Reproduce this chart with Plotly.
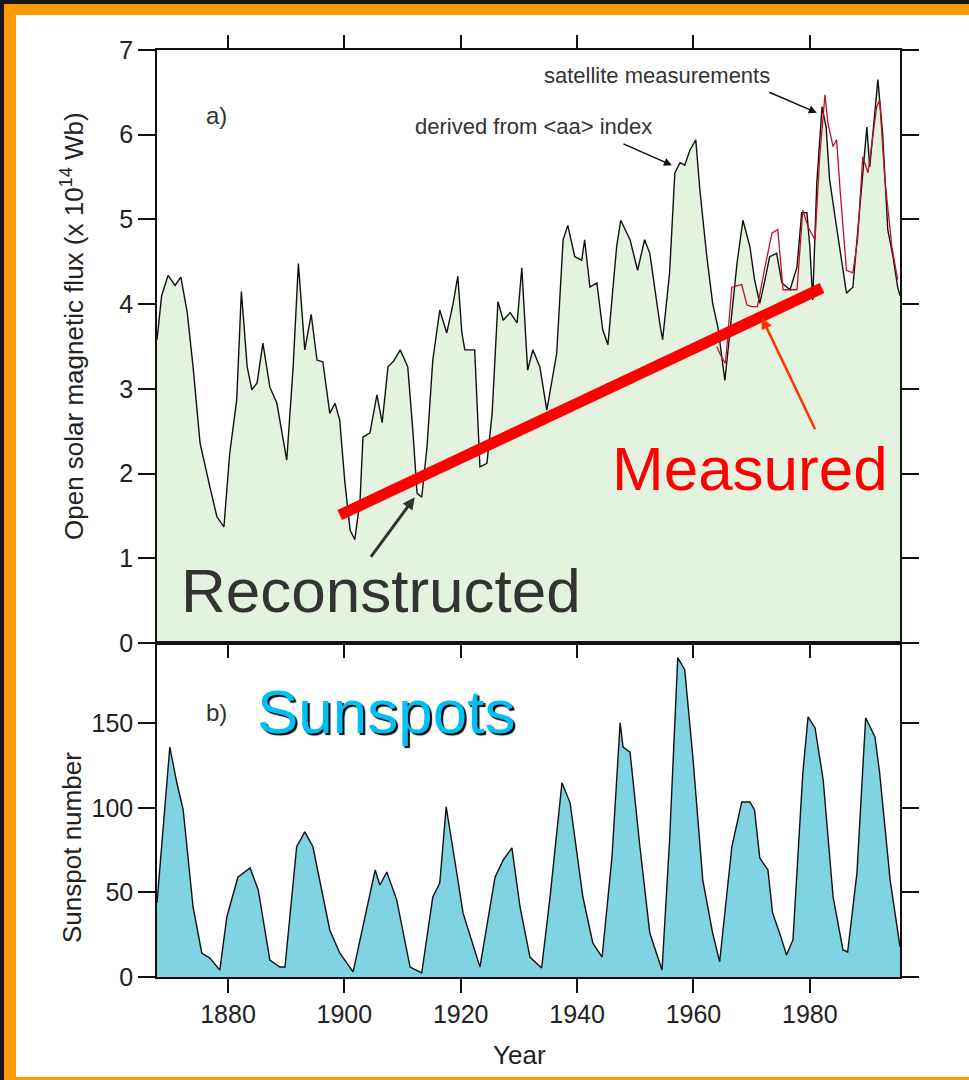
import plotly.graph_objects as go

# ---------------- data ----------------
flux_years = [1867.8, 1868.6, 1869.7, 1870.9, 1871.9, 1873.0, 1874.0, 1875.2, 1876.9, 1878.1,
              1879.3, 1880.3, 1881.5, 1882.3, 1883.3, 1884.1, 1885.0, 1886.0, 1887.2, 1888.4,
              1890.1, 1891.2, 1892.1, 1893.2, 1894.3, 1895.3, 1896.3, 1897.5, 1898.4, 1899.2,
              1900.1, 1901.0, 1901.8, 1902.7, 1903.2, 1904.4, 1905.6, 1906.5, 1907.5, 1908.5,
              1909.6, 1910.9, 1911.8, 1912.5, 1913.3, 1914.2, 1915.2, 1916.4, 1917.6, 1918.7,
              1919.5, 1920.2, 1920.7, 1922.4, 1923.3, 1924.5, 1925.4, 1926.4, 1927.3, 1928.5,
              1929.7, 1930.5, 1931.5, 1932.4, 1933.6, 1934.8, 1936.5, 1937.6, 1938.4, 1939.6,
              1940.8, 1941.3, 1942.2, 1943.4, 1944.4, 1945.3, 1946.8, 1947.5, 1949.1, 1950.4,
              1951.6, 1952.5, 1954.2, 1954.7, 1955.9, 1956.8, 1957.7, 1958.5, 1959.4, 1960.4,
              1961.1, 1962.3, 1963.3, 1964.2, 1965.4, 1966.3, 1967.5, 1968.5, 1969.7, 1970.5,
              1971.4, 1972.3, 1973.1, 1974.3, 1975.2, 1976.6, 1977.8, 1978.6, 1979.5, 1980.0,
              1980.5, 1981.2, 1982.1, 1982.8, 1983.4, 1984.6, 1985.7, 1986.3, 1987.4, 1988.6,
              1989.8, 1990.3, 1991.7, 1992.5, 1993.4, 1994.3, 1995.1, 1995.5]
flux_values = [3.58, 4.10, 4.34, 4.22, 4.32, 3.90, 3.26, 2.36, 1.84, 1.49,
               1.37, 2.24, 2.87, 4.15, 3.26, 2.99, 3.07, 3.54, 3.02, 2.83,
               2.16, 3.26, 4.48, 3.46, 3.88, 3.34, 3.32, 2.71, 2.83, 2.63,
               1.89, 1.33, 1.22, 1.69, 2.43, 2.48, 2.93, 2.60, 3.26, 3.33,
               3.46, 3.26, 2.48, 1.77, 1.72, 2.31, 3.34, 3.93, 3.66, 4.01,
               4.33, 3.66, 3.46, 3.46, 2.08, 2.12, 2.71, 4.03, 3.81, 3.90,
               3.78, 4.43, 3.22, 3.46, 3.26, 2.75, 3.42, 4.76, 4.93, 4.56,
               4.52, 4.76, 4.20, 4.25, 3.70, 3.52, 4.68, 4.99, 4.76, 4.40,
               4.76, 4.60, 3.78, 3.58, 4.37, 5.55, 5.67, 5.64, 5.82, 5.94,
               5.35, 4.56, 4.01, 3.73, 3.10, 3.70, 4.49, 4.99, 4.68, 4.29,
               4.01, 4.29, 4.56, 4.60, 4.25, 4.17, 4.44, 5.08, 5.08, 4.68,
               4.05, 5.43, 6.33, 6.09, 5.47, 4.91, 4.37, 4.13, 4.20, 5.15,
               6.09, 5.62, 6.65, 6.02, 4.88, 4.56, 4.20, 4.10]

meas_years = [1964.0, 1964.8, 1965.5, 1966.6, 1968.3, 1969.2, 1970.0, 1971.0, 1972.3, 1973.5,
              1974.5, 1975.4, 1977.8, 1978.8, 1979.7, 1980.9, 1981.7, 1982.6, 1983.1, 1984.0,
              1984.6, 1985.2, 1986.3, 1987.4, 1988.2, 1989.1, 1990.0, 1991.5, 1992.0, 1992.9,
              1994.1, 1995.1]
meas_values = [3.50, 3.38, 3.30, 4.20, 4.23, 3.99, 3.97, 3.97, 4.44, 4.84,
               4.88, 4.17, 4.17, 5.11, 4.91, 4.76, 5.74, 6.47, 6.14, 5.86,
               5.94, 5.35, 4.40, 4.37, 4.76, 5.74, 5.55, 6.33, 6.41, 5.47,
               4.68, 4.29]

ssn_years = [1867.8, 1869.2, 1870.0, 1871.2, 1872.3, 1874.0, 1875.5, 1876.9, 1878.6, 1879.8,
             1881.7, 1883.8, 1885.2, 1887.2, 1888.9, 1889.8, 1891.8, 1893.2, 1894.6, 1897.5,
             1899.2, 1901.5, 1903.9, 1905.3, 1906.1, 1907.3, 1909.0, 1911.3, 1913.3, 1915.2,
             1916.4, 1917.5, 1918.7, 1920.4, 1923.3, 1925.9, 1927.3, 1928.8, 1930.2, 1931.9,
             1933.9, 1935.3, 1937.4, 1938.8, 1941.0, 1942.7, 1944.3, 1946.0, 1947.4, 1947.9,
             1949.1, 1950.8, 1952.5, 1954.6, 1955.9, 1957.3, 1958.5, 1959.9, 1961.6, 1963.3,
             1964.5, 1966.6, 1968.3, 1969.7, 1970.5, 1971.4, 1972.8, 1973.6, 1974.8, 1976.0,
             1977.1, 1978.8, 1979.7, 1980.9, 1982.3, 1984.0, 1985.7, 1986.5, 1988.1, 1989.6,
             1991.2, 1992.0, 1993.8, 1995.5]
ssn_values = [43.8, 100.6, 136.0, 115.0, 98.8, 41.4, 14.2, 11.2, 4.1, 35.5,
              59.0, 64.5, 51.5, 10.0, 5.9, 5.9, 77.0, 85.8, 77.0, 27.8,
              14.2, 3.0, 41.4, 63.3, 54.4, 62.1, 45.6, 5.9, 2.4, 47.3,
              55.6, 100.6, 75.1, 37.9, 5.9, 59.0, 69.2, 76.3, 41.4, 11.8,
              5.3, 45.6, 114.8, 103.0, 47.3, 20.1, 11.8, 71.0, 150.3, 136.0,
              133.0, 77.0, 26.0, 4.1, 81.0, 188.8, 181.7, 130.0, 57.4, 26.0,
              8.9, 77.0, 103.5, 103.5, 98.8, 70.4, 63.3, 37.9, 26.0, 13.0,
              21.9, 120.7, 153.8, 147.3, 116.5, 47.3, 16.0, 14.8, 61.5, 153.3,
              142.0, 120.7, 57.4, 17.8]

trend_years = [1899.2, 1982.1]
trend_flux = [1.51, 4.19]

year_ticks = [1880, 1900, 1920, 1940, 1960, 1980]
flux_ticks = [0, 1, 2, 3, 4, 5, 6, 7]
ssn_ticks = [0, 50, 100, 150]

# ---------------- layout geometry ----------------
W, H = 969, 1080
L, R, T, B = 157, 69, 50, 103
PW, PH = W - L - R, H - T - B
SPLIT = 643  # pixel row of the boundary between the panels


def px(X, Y):
    return (X - L) / PW, (H - B - Y) / PH


FONT = "Liberation Sans, Arial, Helvetica, sans-serif"
split_frac = (H - B - SPLIT) / PH

fig = go.Figure()

fig.add_trace(go.Scatter(x=flux_years, y=flux_values, mode="lines", fill="tozeroy",
                         fillcolor="#e4f3df", line=dict(color="#111111", width=1.4),
                         xaxis="x", yaxis="y", showlegend=False))
fig.add_trace(go.Scatter(x=meas_years, y=meas_values, mode="lines",
                         line=dict(color="#c0102e", width=1.3),
                         xaxis="x", yaxis="y", showlegend=False))
fig.add_trace(go.Scatter(x=trend_years, y=trend_flux, mode="lines",
                         line=dict(color="#ff0000", width=11),
                         xaxis="x", yaxis="y", showlegend=False))
fig.add_trace(go.Scatter(x=ssn_years, y=ssn_values, mode="lines", fill="tozeroy",
                         fillcolor="#7fd3e3", line=dict(color="#111111", width=1.4),
                         xaxis="x2", yaxis="y2", showlegend=False))

axis_common = dict(showgrid=False, zeroline=False, showline=True, linecolor="#111111",
                   linewidth=1.5, ticks="outside", tickcolor="#111111", tickwidth=1.5,
                   tickfont=dict(family=FONT, size=25, color="#222222"))

fig.update_layout(
    width=W, height=H,
    margin=dict(l=L, r=R, t=T, b=B, pad=0),
    paper_bgcolor="#17171f",
    plot_bgcolor="#ffffff",
    font=dict(family=FONT, color="#222222"),
    xaxis=dict(domain=[0, 1], anchor="y", range=[1867.8, 1995.5], tickvals=year_ticks,
               showticklabels=False, mirror="ticks", ticklen=13, **axis_common),
    yaxis=dict(domain=[split_frac, 1], anchor="x", range=[0, 7], tickvals=flux_ticks,
               mirror="ticks", ticklen=17, **axis_common),
    xaxis2=dict(domain=[0, 1], anchor="y2", range=[1867.8, 1995.5], tickvals=year_ticks,
                mirror=True, ticklen=14, **axis_common),
    yaxis2=dict(domain=[0, split_frac], anchor="x2", range=[0, 197.5], tickvals=ssn_ticks,
                mirror="ticks", ticklen=17, **axis_common),
)

# frame: orange band and white card
ox0, oy0 = px(4, 4)
ox1, oy1 = px(W + 10, H + 10)
wx0, wy0 = px(16, 15)
wx1, wy1 = px(W + 10, H - 3)
fig.add_shape(type="rect", xref="paper", yref="paper", x0=ox0, y0=oy1, x1=ox1, y1=oy0,
              fillcolor="#ff9900", line=dict(width=0), layer="below")
fig.add_shape(type="rect", xref="paper", yref="paper", x0=wx0, y0=wy1, x1=wx1, y1=wy0,
              fillcolor="#ffffff", line=dict(width=0), layer="below")


def text_ann(X, Y, text, size, color, angle=0, **kw):
    x, y = px(X, Y)
    fig.add_annotation(xref="paper", yref="paper", x=x, y=y, text=text, showarrow=False,
                       xanchor="center", yanchor="middle", textangle=angle,
                       font=dict(family=FONT, size=size, color=color, **kw))


# axis titles (placed where the reference shows them)
text_ann(72, 326, "Open solar magnetic flux (x 10<sup>14</sup> Wb)", 26, "#222222", angle=-90)
text_ann(72, 848, "Sunspot number", 26, "#222222", angle=-90)
text_ann(519, 1055, "Year", 26, "#222222")

text_ann(216, 115, "a)", 24, "#333333")
text_ann(216, 712, "b)", 24, "#333333")
text_ann(533, 127, "derived from &lt;aa&gt; index", 22, "#333333")
text_ann(657, 75, "satellite measurements", 22, "#333333")
text_ann(381, 590, "Reconstructed", 62, "#333333")
text_ann(750, 468, "Measured", 62, "#ff0000")
text_ann(386, 711, "Sunspots", 62, "#00bff5", shadow="2px 2px 1px #000000")

# arrows (tip in data coords, tail offset in pixels)
arrows = [
    (1956.3, 5.64, -50, -22, "#111111", 1.6, 1.0),
    (1981.2, 6.26, -49, -21, "#111111", 1.6, 1.0),
    (1912.1, 1.72, -45, 61, "#333333", 3.0, 0.8),
    (1971.75, 3.84, 54, 113, "#ff3300", 2.5, 0.9),
]
for xa, ya, axp, ayp, col, wid, size in arrows:
    fig.add_annotation(xref="x", yref="y", x=xa, y=ya, ax=axp, ay=ayp, text="",
                       showarrow=True, arrowhead=2, arrowsize=size, arrowwidth=wid,
                       arrowcolor=col)

fig.write_html("out.html")
